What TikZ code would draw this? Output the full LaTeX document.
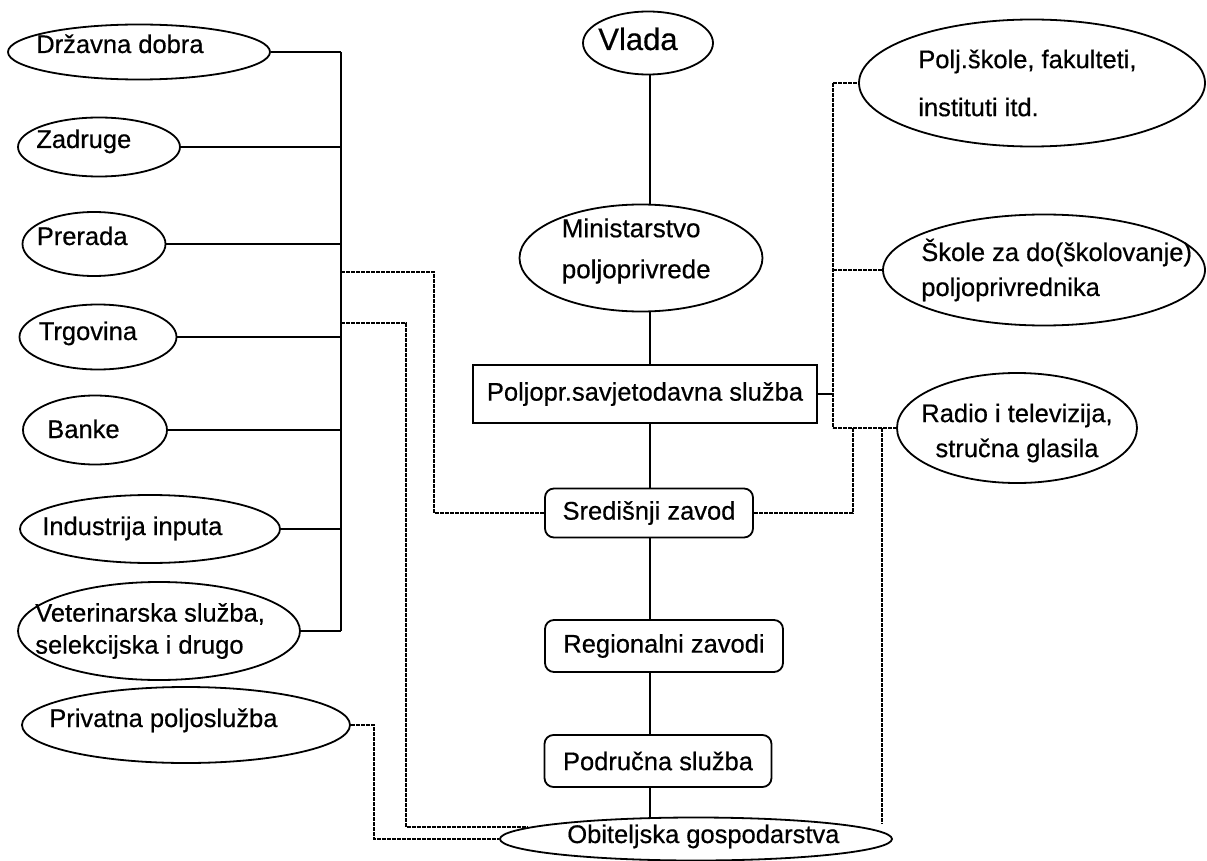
\documentclass[tikz,border=0pt]{standalone}
\usepackage{fontspec}
\setmainfont{Liberation Sans}[FakeBold=0.5]
\usetikzlibrary{shapes.geometric, positioning, calc}

\begin{document}
\begin{tikzpicture}[
    x=1pt, y=-1pt,
    oval/.style={ellipse, draw=black, line width=1.8pt, fill=white, inner sep=0pt},
    lbl/.style={font=\fontsize{25.5}{32}\selectfont, inner sep=0pt, align=left},
    office/.style={rectangle, draw=black, line width=1.8pt, fill=white, inner sep=0pt, font=\fontsize{25.5}{31}\selectfont},
    zavod/.style={office, rounded corners=9pt},
    link/.style={line width=1.8pt},
    dots/.style={line width=1.8pt, dash pattern=on 4pt off 1pt}
]
\useasboundingbox (0,0) rectangle (1207,861);

% left column
\node[oval, minimum width=262pt, minimum height=55pt] (drzavna) at (139,52) {};
\node[oval, minimum width=162pt, minimum height=59pt] (zadruge) at (99,147) {};
\node[oval, minimum width=143pt, minimum height=64pt] (prerada) at (94,244) {};
\node[oval, minimum width=157pt, minimum height=65pt] (trgovina) at (98,337) {};
\node[oval, minimum width=144pt, minimum height=69pt] (banke) at (95,430) {};
\node[oval, minimum width=260pt, minimum height=68pt] (industrija) at (150,529) {};
\node[oval, minimum width=282pt, minimum height=98pt] (veterina) at (159,631) {};
\node[oval, minimum width=328pt, minimum height=76pt] (privatna) at (186,725) {};

\node[lbl, anchor=base west] (drzavnatxt) at ([xshift=29pt, yshift=-1pt]drzavna.west) {Državna dobra};
\node[lbl, anchor=base west] (zadrugetxt) at ([xshift=19pt, yshift=-1pt]zadruge.west) {Zadruge};
\node[lbl, anchor=base west] (preradatxt) at ([xshift=15pt, yshift=-1pt]prerada.west) {Prerada};
\node[lbl, anchor=base west] (trgovinatxt) at ([xshift=20pt, yshift=-3pt]trgovina.west) {Trgovina};
\node[lbl, anchor=base west] (banketxt) at ([xshift=25pt, yshift=-8pt]banke.west) {Banke};
\node[lbl, anchor=base west] (industrijatxt) at ([xshift=23pt, yshift=-6pt]industrija.west) {Industrija inputa};
\node[lbl, anchor=west] (veterinatxt) at ([xshift=18pt]veterina.west) {Veterinarska služba,\\selekcijska i drugo};
\node[lbl, anchor=base west] (privatnatxt) at ([xshift=28pt, yshift=-2pt]privatna.west) {Privatna poljoslužba};

% centre column
\node[oval, minimum width=130pt, minimum height=63pt] (vlada) at (648,43) {};
\node[lbl, anchor=base west, font=\fontsize{31}{37}\selectfont] (vladatxt) at ([xshift=16pt, yshift=-7pt]vlada.west) {Vlada};
\node[oval, minimum width=243pt, minimum height=107pt] (ministarstvo) at (641,258) {};
\node[lbl, anchor=west, font=\fontsize{26}{41}\selectfont] (ministarstvotxt) at ([xshift=43pt, yshift=7pt]ministarstvo.west) {Ministarstvo\\poljoprivrede};
\node[office, minimum width=344pt, minimum height=58pt] (poljopr) at (645,394) {Poljopr.savjetodavna služba};
\node[zavod, minimum width=208pt, minimum height=49pt] (srednji) at (649,513) {Središnji zavod};
\node[zavod, minimum width=238pt, minimum height=52pt] (regionalni) at (664,646) {Regionalni zavodi};
\node[zavod, minimum width=227pt, minimum height=52pt] (podrucna) at (658,761) {Područna služba};
\node[oval, minimum width=392pt, minimum height=43pt] (obitelj) at (696,839) {};
\node[lbl, anchor=base west] (obiteljtxt) at ([xshift=68pt, yshift=-4pt]obitelj.west) {Obiteljska gospodarstva};

% right column
\node[oval, minimum width=346pt, minimum height=127pt] (polj) at (1032,83) {};
\node[lbl, anchor=west, font=\fontsize{25.5}{48}\selectfont] (poljtxt) at ([xshift=60pt]polj.west) {Polj.škole, fakulteti,\\instituti itd.};
\node[oval, minimum width=322pt, minimum height=111pt] (skole) at (1044,270) {};
\node[lbl, anchor=west, font=\fontsize{25.5}{35}\selectfont] (skoletxt) at ([xshift=39pt]skole.west) {Škole za do(školovanje)\\poljoprivrednika};
\node[oval, minimum width=240pt, minimum height=110pt] (radio) at (1017,428) {};
\node[lbl, align=center, font=\fontsize{25.5}{35}\selectfont] (radiotxt) at ([yshift=-5pt]radio.center) {Radio i televizija,\\stručna glasila};

% solid links
\coordinate (lbus) at (341,0);
\coordinate (spine) at (650,0);
\coordinate (rbus) at (833,0);
\draw[link] (lbus |- drzavna.east) -- (lbus |- veterina.east);
\foreach \n in {drzavna, zadruge, prerada, trgovina, banke, industrija, veterina}
    \draw[link] (\n.east) -- (lbus |- \n.east);
\foreach \a/\b in {vlada/ministarstvo, ministarstvo/poljopr, poljopr/srednji, srednji/regionalni, regionalni/podrucna, podrucna/obitelj}
    \draw[link] (spine |- \a.south) -- (spine |- \b.north);
\draw[link] (poljopr.east) -- (rbus |- poljopr.east);

% dotted links
\coordinate (lout1) at (341,272);
\coordinate (lout2) at (341,323);
\coordinate (rout1) at (853,428);
\coordinate (rout2) at (882,428);
\draw[dots] (lout1) -- ++(93,0) |- (srednji.west);
\draw[dots] (lout2) -- ++(65,0) |- (obitelj.176);
\draw[dots] (privatna.east) -- ++(23,0) |- (obitelj.west);
\draw[dots] (rbus |- polj.west) -- (rbus |- radio.west);
\foreach \n in {polj, skole, radio}
    \draw[dots] (rbus |- \n.west) -- (\n.west);
\draw[dots] (rout1) |- (srednji.east);
\draw[dots] (rout2) -- (rout2 |- obitelj.north east);

\end{tikzpicture}
\end{document}
